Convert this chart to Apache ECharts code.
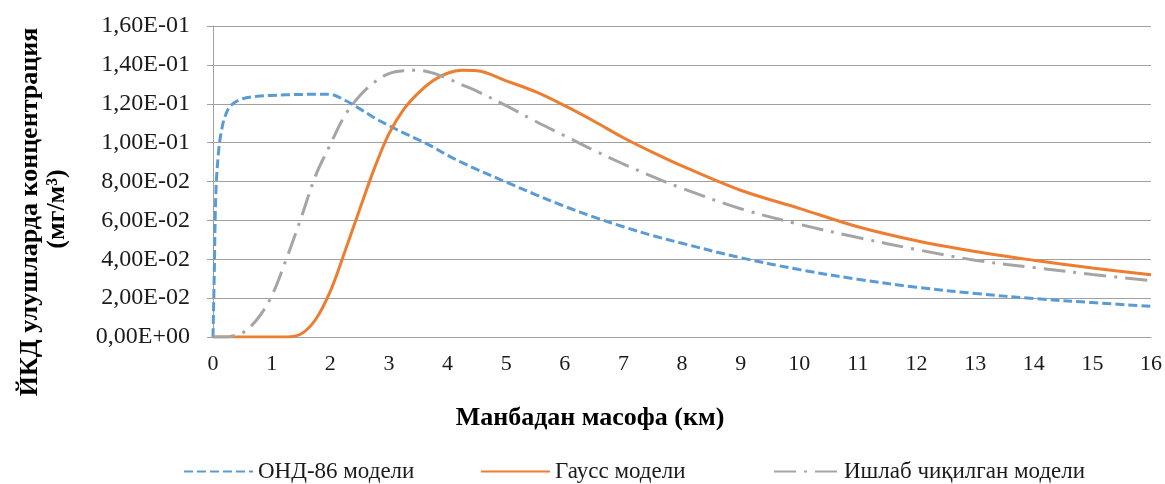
<!DOCTYPE html>
<html>
<head>
<meta charset="utf-8">
<script src="https://cdn.jsdelivr.net/npm/echarts@6/dist/echarts.min.js"></script>
<style>
html,body{margin:0;padding:0;background:#fff;}
#chart{width:1165px;height:484px;}
</style>
</head>
<body>
<div id="chart"></div>
<script>
// Distance from source (km)
const distanceKm = [0, 0.02, 0.05, 0.1, 0.15, 0.2, 0.3, 0.5, 0.75, 1, 1.25, 1.5, 1.75, 2, 2.25, 2.5, 2.75, 3, 3.25, 3.5, 3.75, 4, 4.25, 4.5, 5, 5.5, 6, 6.5, 7, 7.5, 8, 9, 10, 11, 12, 13, 14, 15, 16];
// ОНД-86 model
const ond86 = [0, 0.03, 0.075, 0.097, 0.107, 0.113, 0.119, 0.1225, 0.1238, 0.1243, 0.1246, 0.1248, 0.1249, 0.1248, 0.1218, 0.1175, 0.1128, 0.1088, 0.105, 0.1015, 0.0978, 0.0935, 0.0897, 0.0862, 0.0797, 0.0733, 0.0672, 0.0617, 0.0567, 0.0522, 0.0482, 0.0408, 0.0347, 0.0297, 0.0256, 0.0224, 0.0198, 0.0177, 0.0158];
// Gauss model
const gauss = [0, 0, 0, 0, 0, 0, 0, 0, 0, 0, 0, 0.0015, 0.009, 0.0235, 0.044, 0.0655, 0.0865, 0.1045, 0.117, 0.1255, 0.1318, 0.1357, 0.1372, 0.137, 0.1318, 0.1262, 0.119, 0.111, 0.1025, 0.095, 0.088, 0.0755, 0.0662, 0.0567, 0.0495, 0.044, 0.0395, 0.0355, 0.032];
// Developed model
const developed = [0, 0, 0, 0, 0, 0, 0.0003, 0.002, 0.009, 0.021, 0.04, 0.061, 0.083, 0.099, 0.114, 0.124, 0.131, 0.1355, 0.137, 0.1372, 0.1358, 0.133, 0.1297, 0.1265, 0.119, 0.111, 0.1035, 0.096, 0.089, 0.0825, 0.0765, 0.066, 0.058, 0.0512, 0.045, 0.0395, 0.0357, 0.0322, 0.029];

const seriesNames = ['ОНД-86 модели', 'Гаусс модели', 'Ишлаб чиқилган модели'];
const xTitle = 'Манбадан масофа (км)';
const yTitleLines = ['ЙКД улушларда концентрация', '(мг/м³)'];

function pairs(ys) { return distanceKm.map((x, i) => [x, ys[i]]); }

function sciLabel(v) {
  if (Math.abs(v) < 1e-12) return '0,00E+00';
  let e = Math.floor(Math.log10(v) + 1e-9);
  let m = v / Math.pow(10, e);
  return m.toFixed(2).replace('.', ',') + 'E' + (e < 0 ? '-' : '+') + String(Math.abs(e)).padStart(2, '0');
}

const serif = '"Liberation Serif", "Times New Roman", serif';
const chart = echarts.init(document.getElementById('chart'), null, {renderer: 'canvas'});

const legendBase = {
  orient: 'horizontal', top: 455, itemHeight: 14,
  textStyle: {fontFamily: serif, fontSize: 23, color: '#1a1a1a'},
  itemStyle: {opacity: 0},
  itemGap: 0
};

chart.setOption({
  animation: false,
  backgroundColor: '#fff',
  grid: {left: 213, right: 13, top: 26, bottom: 147, containLabel: false},
  xAxis: {
    type: 'value', min: 0, max: 16, interval: 1,
    axisLine: {lineStyle: {color: '#a0a0a0', width: 1}},
    axisTick: {show: false},
    splitLine: {show: false},
    axisLabel: {fontFamily: serif, fontSize: 22, color: '#1a1a1a', margin: 16}
  },
  yAxis: {
    type: 'value', min: 0, max: 0.16, interval: 0.02,
    axisLine: {show: true, lineStyle: {color: '#a0a0a0', width: 1}},
    axisTick: {show: true, length: 6, lineStyle: {color: '#a0a0a0'}},
    splitLine: {show: true, lineStyle: {color: '#a0a0a0', width: 1}},
    axisLabel: {fontFamily: serif, fontSize: 24, color: '#1a1a1a', margin: 23, formatter: sciLabel}
  },
  legend: [
    Object.assign({}, legendBase, {data: [seriesNames[0]], left: 178, itemWidth: 69}),
    Object.assign({}, legendBase, {data: [seriesNames[1]], left: 475, itemWidth: 69}),
    Object.assign({}, legendBase, {data: [seriesNames[2]], left: 768, itemWidth: 65})
  ],
  graphic: [
    {type: 'text', x: 30, y: 212, rotation: Math.PI / 2,
     style: {text: yTitleLines[0], font: 'bold 26px ' + serif, fill: '#000', textAlign: 'center', textVerticalAlign: 'middle'}},
    {type: 'text', x: 57, y: 209, rotation: Math.PI / 2,
     style: {text: yTitleLines[1], font: 'bold 26px ' + serif, fill: '#000', textAlign: 'center', textVerticalAlign: 'middle'}},
    {type: 'text', x: 590, y: 418,
     style: {text: xTitle, font: 'bold 26px ' + serif, fill: '#000', textAlign: 'center', textVerticalAlign: 'middle'}}
  ],
  series: [
    {name: seriesNames[0], type: 'line', data: pairs(ond86), symbol: 'none', smooth: 0.35,
     lineStyle: {color: '#5b9bd5', width: 3, type: [9, 4]}, itemStyle: {color: '#5b9bd5'}},
    {name: seriesNames[1], type: 'line', data: pairs(gauss), symbol: 'none', smooth: 0.35,
     lineStyle: {color: '#ed7d31', width: 3, type: 'solid'}, itemStyle: {color: '#ed7d31'}},
    {name: seriesNames[2], type: 'line', data: pairs(developed), symbol: 'none', smooth: 0.35,
     lineStyle: {color: '#a5a5a5', width: 3, type: [22, 8, 3, 8]}, itemStyle: {color: '#a5a5a5'}}
  ]
});
</script>
</body>
</html>
